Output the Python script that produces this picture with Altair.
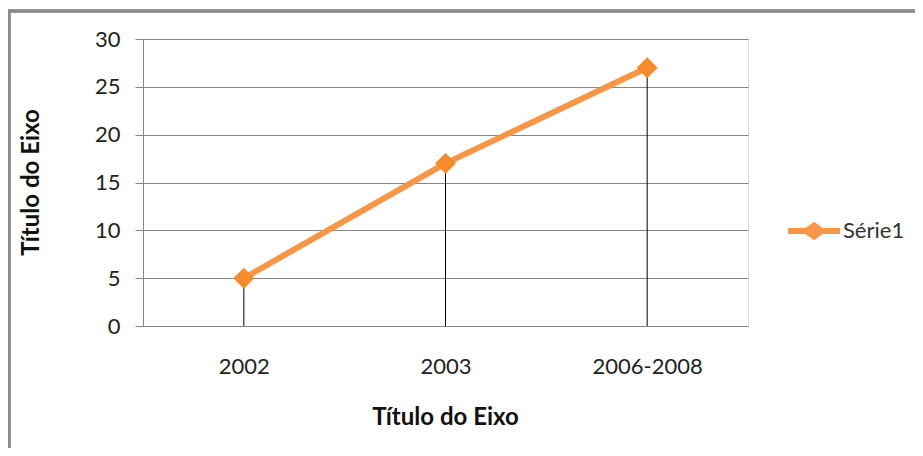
import altair as alt
import pandas as pd

categories = ["2002", "2003", "2006-2008"]
values = [5, 17, 27]
series_name = "Série1"
y_ticks = [0, 5, 10, 15, 20, 25, 30]

df = pd.DataFrame({"cat": categories, "val": values, "serie": [series_name] * len(categories)})

ORANGE = "#F79646"
FONT = "Lato"
LABEL_SIZE = 22
TITLE_SIZE = 24

x_enc = alt.X(
    "cat:N",
    sort=categories,
    scale=alt.Scale(type="point", padding=0.5),
    axis=alt.Axis(
        title="Título do Eixo",
        labelAngle=0,
        labelFontSize=LABEL_SIZE,
        labelPadding=30,
        labelColor="#222222",
        labelFont=FONT,
        ticks=False,
        tickSize=0,
        domain=True,
        domainColor="#868686",
        domainWidth=1,
        grid=False,
        titleFont=FONT,
        titleFontSize=TITLE_SIZE,
        titleFontWeight="bold",
        titleColor="#111111",
        titleX=302,
        titleY=91,
        titleBaseline="middle",
        titleAlign="center",
    ),
)

y_enc = alt.Y(
    "val:Q",
    scale=alt.Scale(domain=[0, 30], nice=False, zero=True),
    axis=alt.Axis(
        title="Título do Eixo",
        values=y_ticks,
        labelFontSize=LABEL_SIZE,
        labelFont=FONT,
        labelColor="#222222",
        labelPadding=15,
        tickSize=8,
        tickColor="#868686",
        domainColor="#868686",
        gridColor="#868686",
        gridWidth=1,
        titleFont=FONT,
        titleFontSize=TITLE_SIZE,
        titleFontWeight="bold",
        titleColor="#111111",
        titleAngle=270,
        titleX=-112,
        titleY=143,
        titleAlign="center",
        titleBaseline="middle",
    ),
)

color_enc = alt.Color(
    "serie:N",
    scale=alt.Scale(domain=[series_name], range=[ORANGE]),
    legend=alt.Legend(
        title=None,
        orient="none",
        legendX=645,
        legendY=166,
        symbolType="M -1 -0.12 L -0.33 -0.12 L 0 -0.36 L 0.33 -0.12 L 1 -0.12 L 1 0.12 L 0.33 0.12 L 0 0.36 L -0.33 0.12 L -1 0.12 Z",
        symbolSize=2704,
        symbolFillColor=ORANGE,
        symbolStrokeWidth=0,
        labelFontSize=LABEL_SIZE,
        labelFont=FONT,
        labelColor="#333333",
        labelOffset=3,
        padding=0,
    ),
)

border = alt.Chart(df).mark_rect(fill=None, stroke="#8a8a8a", strokeWidth=3).encode(
    x=alt.value(-134), x2=alt.value(800), y=alt.value(-28), y2=alt.value(440)
)

drops = alt.Chart(df).mark_rule(color="#000000", strokeWidth=1).encode(
    x=x_enc, y=y_enc, y2=alt.datum(0)
)

line = alt.Chart(df).mark_line(strokeWidth=6, strokeCap="round", strokeJoin="round").encode(
    x=x_enc, y=y_enc, color=color_enc
)

points = alt.Chart(df).mark_point(shape="diamond", size=440, filled=True, opacity=1, color="#F68B2D").encode(
    x=x_enc, y=y_enc
)

chart = alt.layer(border, drops, line, points).properties(
    width=605,
    height=287,
    autosize=alt.AutoSizeParams(type="none"),
    padding={"left": 135, "top": 31, "right": 167, "bottom": 122},
).configure_view(stroke=None).configure(background="#ffffff")

chart.save("out.html", embed_options={"renderer": "svg", "actions": False})
